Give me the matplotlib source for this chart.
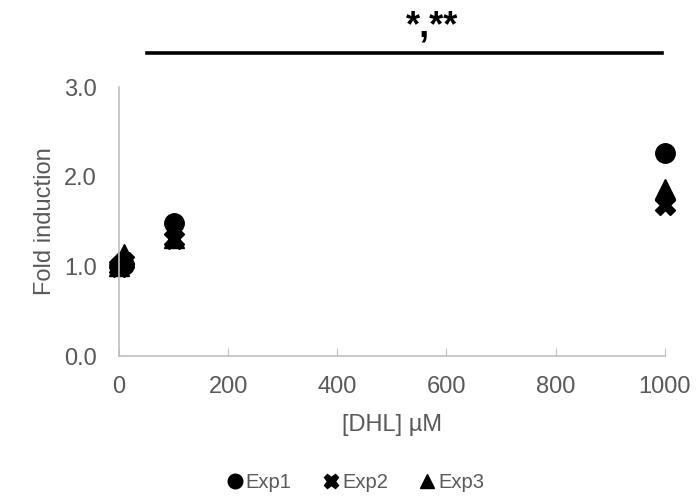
import matplotlib
matplotlib.use("Agg")
import matplotlib.pyplot as plt

# Concentraciones de DHL (µM) y valores de inducción por experimento
dhl = [0, 10, 100, 1000]
exp1 = [1.00, 1.02, 1.48, 2.26]
exp2 = [0.99, 1.05, 1.31, 1.68]
exp3 = [1.01, 1.14, 1.32, 1.86]

series = ["Exp1", "Exp2", "Exp3"]
markers = ["o", "X", "^"]

x_ticks = [0, 200, 400, 600, 800, 1000]
y_ticks = [0.0, 1.0, 2.0, 3.0]
signif = "*,**"

plt.rcParams['font.family'] = ['Liberation Sans', 'DejaVu Sans']
gray = "#595959"
fs = 17

fig = plt.figure(figsize=(6.96, 4.98), dpi=100)
ax = fig.add_axes([0.171, 0.285, 0.784, 0.540])

for name, vals, m in zip(series, [exp1, exp2, exp3], markers):
    ax.plot(dhl, vals, linestyle="none", marker=m, color="black",
            markersize=14, label=name, clip_on=False)

ax.set_xlim(0, 1000)
ax.set_ylim(0, 3)
ax.set_xticks(x_ticks)
ax.set_yticks(y_ticks)
ax.set_yticklabels([f"{v:.1f}" for v in y_ticks])

for s in ["top", "right"]:
    ax.spines[s].set_visible(False)
for s in ["left", "bottom"]:
    ax.spines[s].set_color("#BFBFBF")
    ax.spines[s].set_linewidth(1.2)

ax.tick_params(axis="x", direction="in", length=6, color="#BFBFBF",
               labelsize=fs, labelcolor=gray, pad=14)
ax.tick_params(axis="y", length=0, labelsize=fs, labelcolor=gray, pad=16)

ax.set_xlabel("[DHL] µM", fontsize=fs, color=gray, labelpad=12)
ax.set_ylabel("Fold induction", fontsize=fs, color=gray, labelpad=6)

# barra de significancia sobre el gráfico
ax.plot([0.051, 0.996], [1.127, 1.127], transform=ax.transAxes,
        color="black", linewidth=2.6, clip_on=False)
ax.text(0.574, 1.19, signif, transform=ax.transAxes, ha="center",
        va="baseline", fontsize=26, fontweight="bold", color="black")

leg = fig.legend(loc="center", bbox_to_anchor=(0.51, 0.032), ncol=3,
                 frameon=False, fontsize=14.5, handletextpad=0.1,
                 columnspacing=1.5, markerscale=0.75, handlelength=0.9)
for t in leg.get_texts():
    t.set_color(gray)

fig.savefig("out.png", dpi=100)
